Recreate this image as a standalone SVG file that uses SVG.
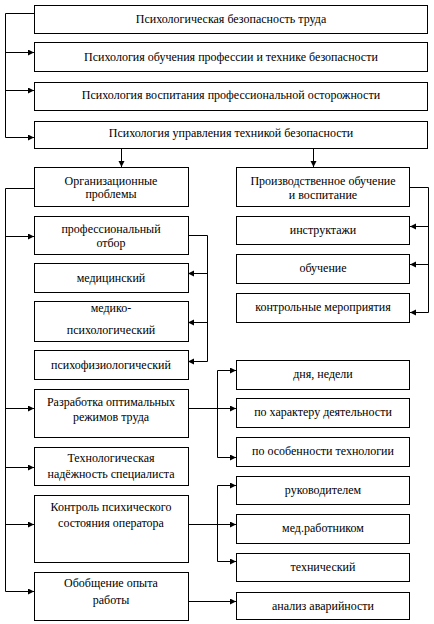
<svg xmlns="http://www.w3.org/2000/svg" width="434" height="624" viewBox="0 0 434 624">
<style>
.b{fill:#fff;stroke:#000;stroke-width:1}
.t{font-size:12px;fill:#000;text-anchor:middle}
.c{fill:none;stroke:#000;stroke-width:1}
.a{marker-end:url(#ar)}
</style>
<defs>
<marker id="ar" markerUnits="userSpaceOnUse" markerWidth="7" markerHeight="7" refX="6" refY="3" orient="auto">
<path d="M0,0 L6,3 L0,6 z" fill="#000"/>
</marker>
</defs>
<rect width="434" height="624" fill="#fff"/>
<g id="connectors">
<path class="c" d="M34,13.5 H5.5 V52.5"/>
<path class="c a" d="M5.5,52.5 H34"/>
<path class="c a" d="M5.5,52 V90.5 H34"/>
<path class="c a" d="M5.5,90 V137.5 H34"/>
<path class="c a" d="M121.5,148 V167"/>
<path class="c a" d="M313.5,148 V167"/>
<path class="c" d="M34,188.5 H5.5 V591"/>
<path class="c a" d="M5.5,236.5 H34"/>
<path class="c a" d="M5.5,408.5 H34"/>
<path class="c a" d="M5.5,467.5 H34"/>
<path class="c a" d="M5.5,524.5 H34"/>
<path class="c a" d="M5.5,591 V591.5 H34"/>
<path class="c" d="M188,235.5 H207.5 V361"/>
<path class="c a" d="M207.5,273.5 H188"/>
<path class="c a" d="M207.5,322.5 H188"/>
<path class="c a" d="M207.5,361 V361.5 H188"/>
<path class="c" d="M410,187.5 H428.5 V312"/>
<path class="c a" d="M428.5,226.5 H410"/>
<path class="c a" d="M428.5,264.5 H410"/>
<path class="c a" d="M428.5,312 V312.5 H410"/>
<path class="c a" d="M188,408.5 H236"/>
<path class="c a" d="M217.5,408 V370.5 H236"/>
<path class="c a" d="M217.5,408 V457.5 H236"/>
<path class="c a" d="M188,524.5 H236"/>
<path class="c a" d="M217.5,524 V485.5 H236"/>
<path class="c a" d="M217.5,524 V561.5 H236"/>
<path class="c a" d="M188,601.5 H236"/>
</g>
<g font-family="'Liberation Serif', 'DejaVu Serif', serif">
<g id="n1"><rect class="b" x="34.5" y="5.5" width="393" height="28"/><text class="t" x="231" y="23">Психологическая безопасность труда</text></g>
<g id="n2"><rect class="b" x="34.5" y="42.5" width="393" height="29"/><text class="t" x="231" y="61">Психология обучения профессии и технике безопасности</text></g>
<g id="n3"><rect class="b" x="34.5" y="82.5" width="393" height="28"/><text class="t" x="231" y="99">Психология воспитания профессиональной осторожности</text></g>
<g id="n4"><rect class="b" x="34.5" y="121.5" width="393" height="27"/><text class="t" x="231" y="137">Психология управления техникой безопасности</text></g>
<g id="org"><rect class="b" x="34.5" y="167.5" width="154" height="39"/><text class="t" x="111" y="185">Организационные</text><text class="t" x="111" y="198">проблемы</text></g>
<g id="prof"><rect class="b" x="34.5" y="216.5" width="154" height="38"/><text class="t" x="111" y="233">профессиональный</text><text class="t" x="111" y="247">отбор</text></g>
<g id="med"><rect class="b" x="34.5" y="263.5" width="154" height="29"/><text class="t" x="111" y="282">медицинский</text></g>
<g id="medpsy"><rect class="b" x="34.5" y="301.5" width="154" height="40"/><text class="t" x="111" y="312">медико-</text><text class="t" x="111" y="334">психологический</text></g>
<g id="psyphys"><rect class="b" x="34.5" y="350.5" width="154" height="29"/><text class="t" x="111" y="369">психофизиологический</text></g>
<g id="prod"><rect class="b" x="236.5" y="167.5" width="173" height="39"/><text class="t" x="323" y="185">Производственное обучение</text><text class="t" x="323" y="199">и воспитание</text></g>
<g id="instr"><rect class="b" x="236.5" y="216.5" width="173" height="28"/><text class="t" x="323" y="234">инструктажи</text></g>
<g id="obuch"><rect class="b" x="236.5" y="254.5" width="173" height="29"/><text class="t" x="323" y="272">обучение</text></g>
<g id="kontr"><rect class="b" x="236.5" y="293.5" width="173" height="29"/><text class="t" x="323" y="311">контрольные мероприятия</text></g>
<g id="razr"><rect class="b" x="34.5" y="389.5" width="154" height="48"/><text class="t" x="111" y="406">Разработка оптимальных</text><text class="t" x="111" y="421">режимов труда</text></g>
<g id="tech"><rect class="b" x="34.5" y="447.5" width="154" height="38"/><text class="t" x="111" y="462">Технологическая</text><text class="t" x="111" y="478">надёжность специалиста</text></g>
<g id="kps"><rect class="b" x="34.5" y="495.5" width="154" height="67"/><text class="t" x="111" y="511">Контроль психического</text><text class="t" x="111" y="527">состояния оператора</text></g>
<g id="obob"><rect class="b" x="34.5" y="572.5" width="154" height="48"/><text class="t" x="111" y="587">Обобщение опыта</text><text class="t" x="111" y="604">работы</text></g>
<g id="dnya"><rect class="b" x="236.5" y="360.5" width="173" height="29"/><text class="t" x="323" y="378">дня, недели</text></g>
<g id="har"><rect class="b" x="236.5" y="398.5" width="173" height="29"/><text class="t" x="323" y="416">по характеру деятельности</text></g>
<g id="osob"><rect class="b" x="236.5" y="437.5" width="173" height="29"/><text class="t" x="323" y="455">по особенности технологии</text></g>
<g id="ruk"><rect class="b" x="236.5" y="476.5" width="173" height="28"/><text class="t" x="323" y="494">руководителем</text></g>
<g id="medr"><rect class="b" x="236.5" y="514.5" width="173" height="29"/><text class="t" x="323" y="532">мед.работником</text></g>
<g id="techn"><rect class="b" x="236.5" y="553.5" width="173" height="28"/><text class="t" x="323" y="571">технический</text></g>
<g id="anal"><rect class="b" x="236.5" y="592.5" width="173" height="27"/><text class="t" x="323" y="610">анализ аварийности</text></g>
</g>
</svg>
